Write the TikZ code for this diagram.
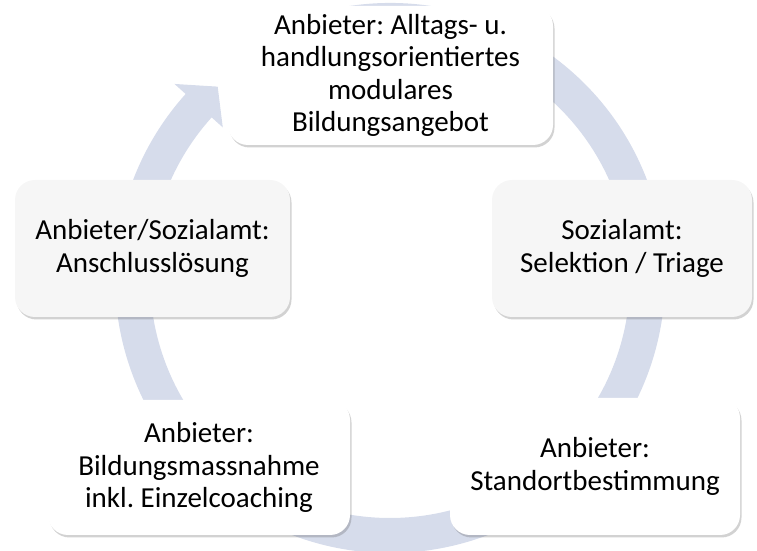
\documentclass[tikz,border=0pt]{standalone}
\usepackage{fontspec}
\setmainfont{Carlito}
\usepackage{tikz}
\usetikzlibrary{shadows}
\usepackage{xcolor}
\definecolor{ringblue}{RGB}{214,220,235}
\definecolor{boxgray}{RGB}{246,246,246}
\frenchspacing

\begin{document}
\begin{tikzpicture}[
		x=1pt, y=1pt,
		b/.style = {rectangle, draw=none, rounded corners=20pt, align=center, inner sep=0pt,
			font=\fontsize{29}{32.5}\selectfont,
			drop shadow={shadow xshift=1.5pt, shadow yshift=-2.5pt, opacity=0.25, fill=black!70}},
		w/.style = {b, fill=white},
		g/.style = {b, fill=boxgray}
		]
		\useasboundingbox (0,0) rectangle (757,551);
		
		%Ring
		\begin{scope}[shift={(390,273)}]
			\fill[ringblue] (100:275) arc[start angle=100, end angle=-222, radius=275]
				-- (-222:290) -- (-228:257.5) -- (-222:225) -- (-222:240)
				arc[start angle=-222, end angle=100, radius=240] -- cycle;
		\end{scope}
		
		%Nodes
		\node[w, minimum width=325, minimum height=139]	(angebot)	at	(390.5, 475.5)	{Anbieter: Alltags- u.\\handlungsorientiertes\\modulares\\Bildungsangebot};
		\node[g, minimum width=260, minimum height=137]	(triage)	at	(622, 302.5)	{Sozialamt:\\Selektion / Triage};
		\node[w, minimum width=290, minimum height=137]	(standort)	at	(595, 84.5)		{Anbieter:\\Standortbestimmung};
		\node[w, minimum width=302, minimum height=135]	(massnahme)	at	(199, 83.5)		{Anbieter:\\Bildungsmassnahme\\inkl. Einzelcoaching};
		\node[g, minimum width=275, minimum height=137]	(anschluss)	at	(152.5, 302.5)	{Anbieter/Sozialamt:\\Anschlusslösung};
	\end{tikzpicture}
\end{document}
